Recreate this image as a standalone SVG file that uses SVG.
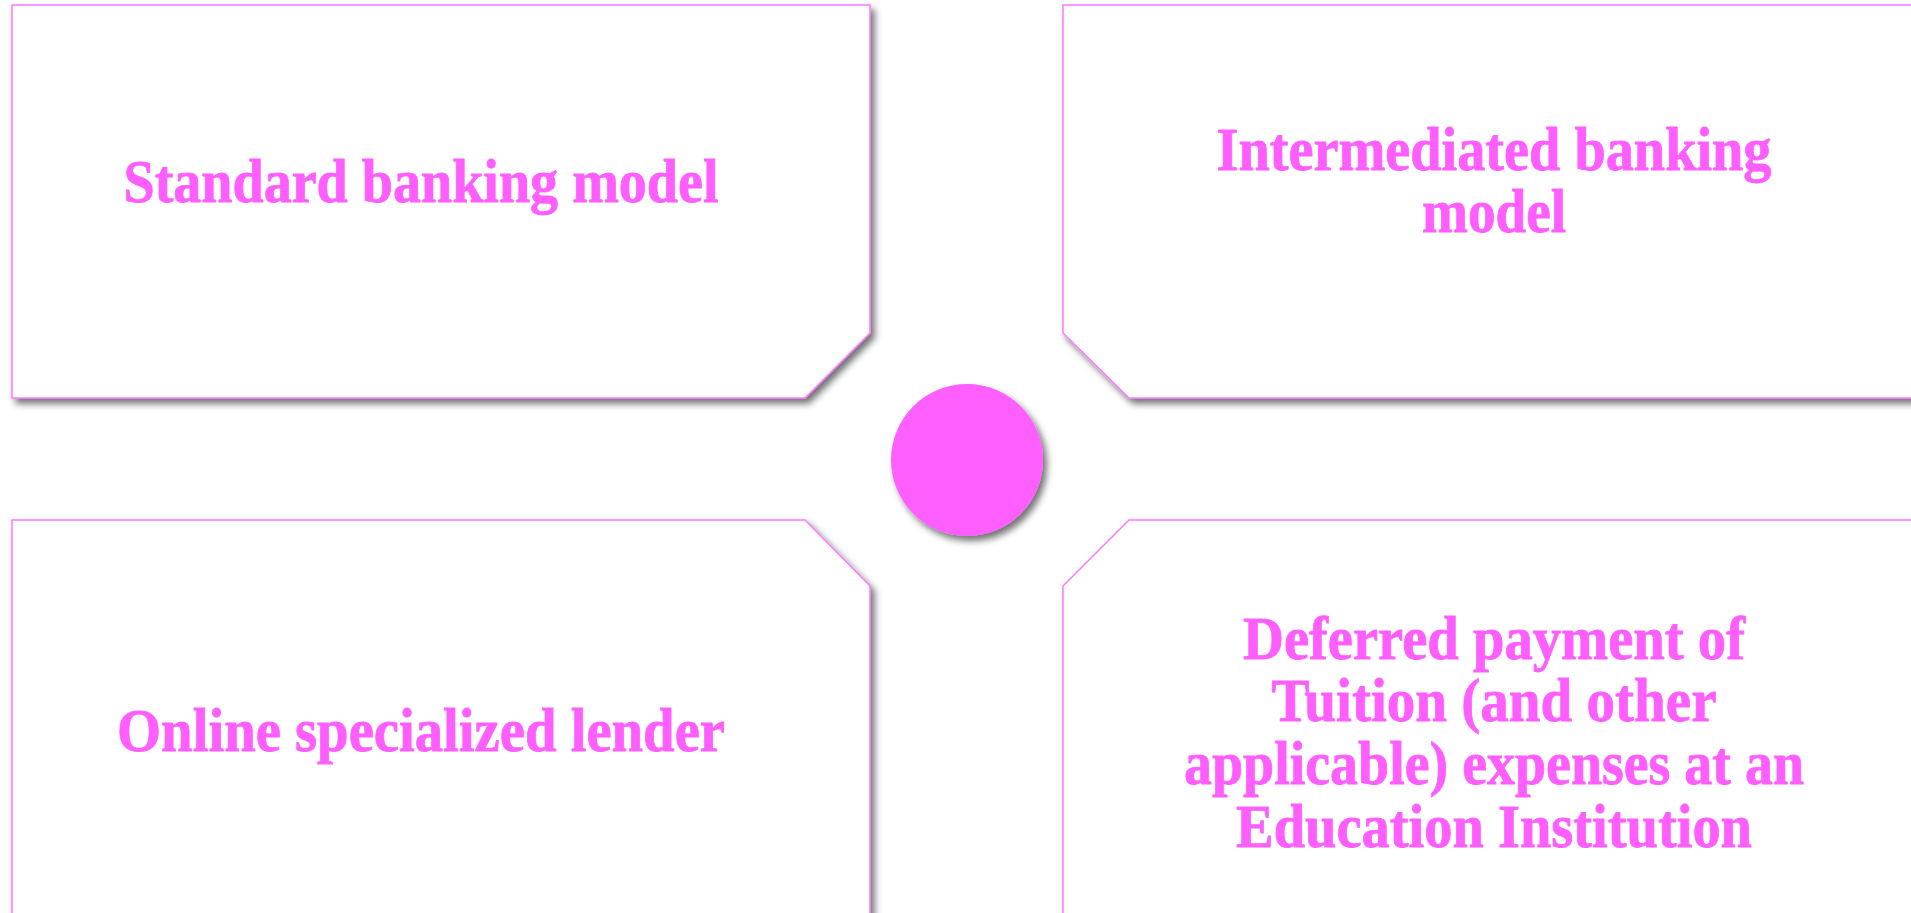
<svg xmlns="http://www.w3.org/2000/svg" width="1911" height="913" viewBox="0 0 1911 913">
  <defs>
    <filter id="shadow" x="-10%" y="-10%" width="120%" height="120%">
      <feGaussianBlur in="SourceAlpha" stdDeviation="3.5"/>
      <feOffset dx="4" dy="5" result="blur"/>
      <feFlood flood-color="#000000" flood-opacity="0.55"/>
      <feComposite in2="blur" operator="in"/>
      <feMerge>
        <feMergeNode/>
        <feMergeNode in="SourceGraphic"/>
      </feMerge>
    </filter>
  </defs>
  <style>
    .box { fill: #ffffff; stroke: #ff78ff; stroke-width: 1.5; filter: url(#shadow); }
    .hub { fill: #ff5eff; filter: url(#shadow); }
    .label { font-family: "Liberation Serif", "DejaVu Serif", serif; font-weight: bold; font-size: 61px; fill: #ff5eff; stroke: #ff5eff; stroke-width: 0.8; text-anchor: middle; }
  </style>
  <rect width="1911" height="913" fill="#ffffff"/>

  <g id="connectors"></g>

  <!-- top-left card -->
  <g id="standard-banking">
    <path class="box" d="M12,5 H870 V333 L805,398 H12 Z"/>
    <text class="label" x="421" y="202" textLength="595" lengthAdjust="spacingAndGlyphs">Standard banking model</text>
  </g>

  <!-- top-right card -->
  <g id="intermediated-banking">
    <path class="box" d="M1063,5 H1930 V398 H1129 L1063,333 Z"/>
    <text class="label" x="1494" y="170" textLength="555" lengthAdjust="spacingAndGlyphs">Intermediated banking</text>
    <text class="label" x="1494" y="232" textLength="144" lengthAdjust="spacingAndGlyphs">model</text>
  </g>

  <!-- bottom-left card -->
  <g id="online-lender">
    <path class="box" d="M12,520 H805 L870,586 V930 H12 Z"/>
    <text class="label" x="421" y="751" textLength="608" lengthAdjust="spacingAndGlyphs">Online specialized lender</text>
  </g>

  <!-- bottom-right card -->
  <g id="deferred-payment">
    <path class="box" d="M1129,520 H1930 V930 H1063 V586 Z"/>
    <text class="label" x="1494" y="659" textLength="502" lengthAdjust="spacingAndGlyphs">Deferred payment of</text>
    <text class="label" x="1494" y="721" textLength="445" lengthAdjust="spacingAndGlyphs">Tuition (and other</text>
    <text class="label" x="1494" y="784" textLength="620" lengthAdjust="spacingAndGlyphs">applicable) expenses at an</text>
    <text class="label" x="1494" y="847" textLength="516" lengthAdjust="spacingAndGlyphs">Education Institution</text>
  </g>

  <!-- central hub -->
  <g id="hub">
    <circle class="hub" cx="967" cy="460" r="76"/>
  </g>
</svg>
